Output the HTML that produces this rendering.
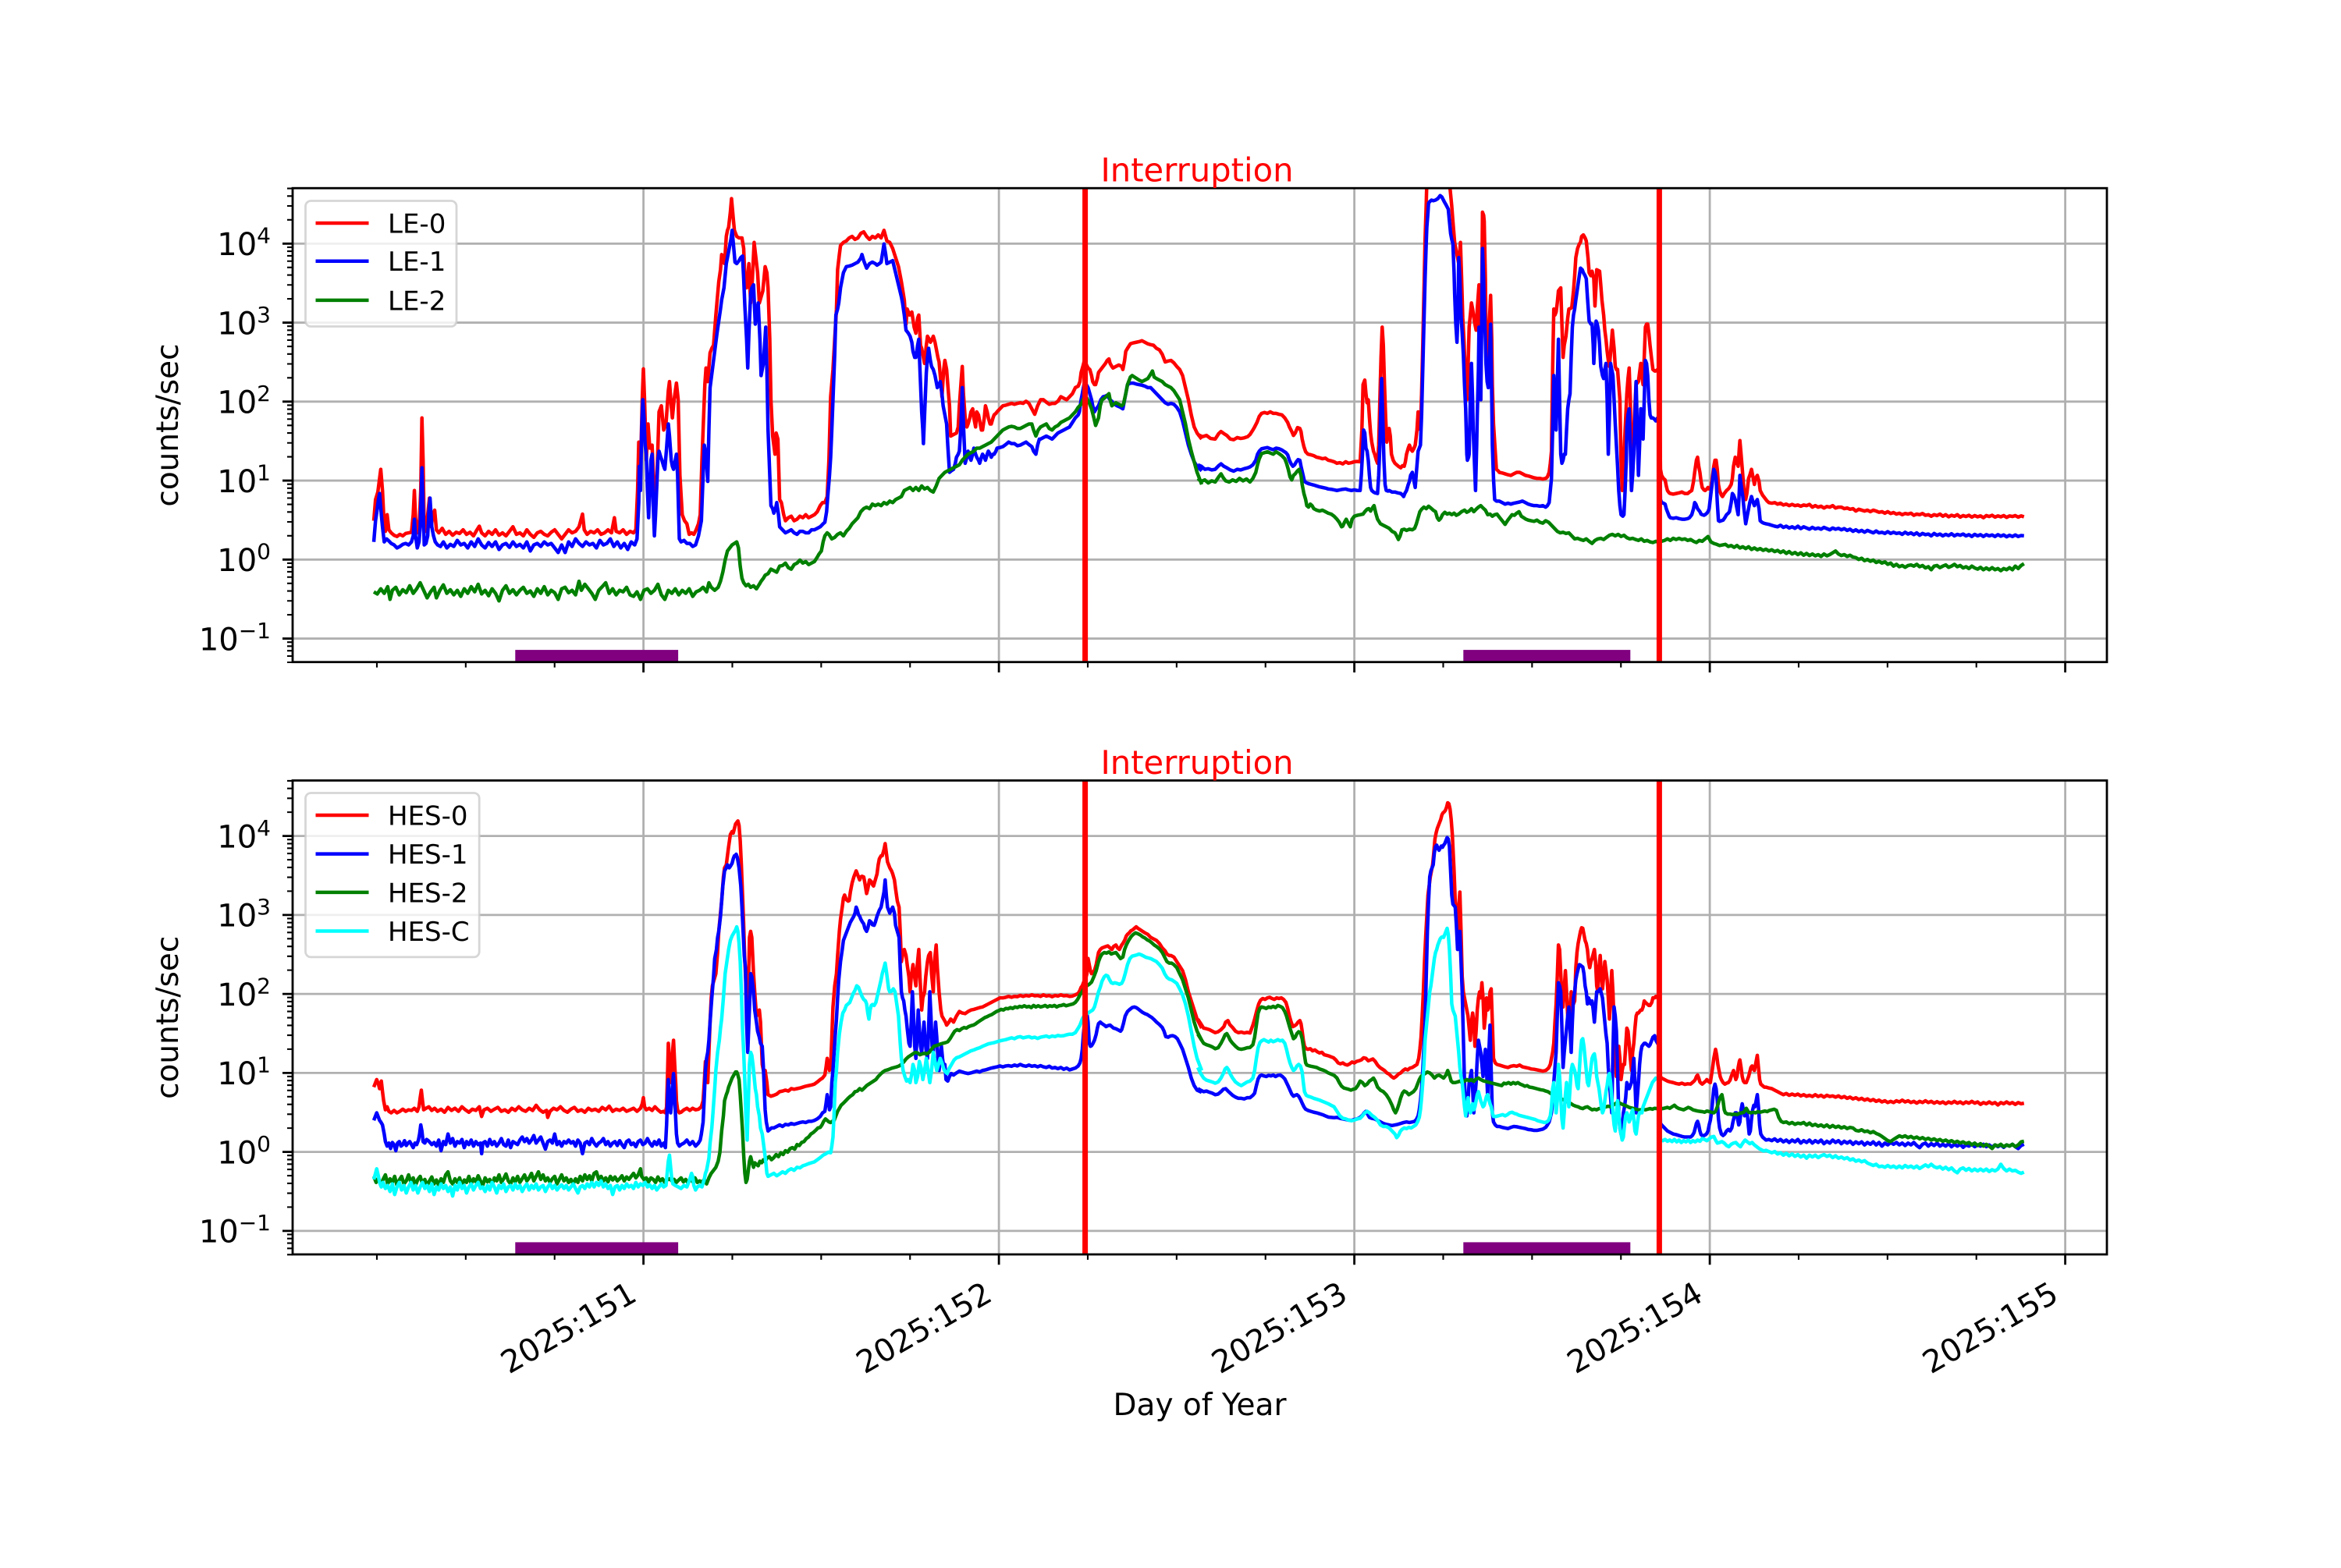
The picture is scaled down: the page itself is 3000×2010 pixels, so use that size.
<!DOCTYPE html>
<html><head><meta charset="utf-8"><style>
html,body{margin:0;padding:0;background:#fff}
svg{display:block}
text{font-family:"DejaVu Sans","Liberation Sans",sans-serif}
.s{fill:none;stroke-width:4.5;stroke-linejoin:round;vector-effect:non-scaling-stroke}
</style></head><body>
<svg width="3000" height="2010" viewBox="0 0 3000 2010" xmlns="http://www.w3.org/2000/svg">
<rect width="3000" height="2010" fill="#fff"/>
<defs>
<clipPath id="cT"><rect x="375" y="241.2" width="2325" height="607.5"/></clipPath>
<clipPath id="cB"><rect x="375" y="1000.5" width="2325" height="607.5"/></clipPath>
</defs>

<!-- GRID -->
<g id="gridT"><path fill="none" stroke="#b0b0b0" stroke-width="2.8" d="M375,312.3H2700M375,413.55H2700M375,514.8H2700M375,616.05H2700M375,717.3H2700M375,818.55H2700M824.6,241.2V848.7M1280.1,241.2V848.7M1735.6,241.2V848.7M2191.1,241.2V848.7M2646.6,241.2V848.7"/></g>
<use href="#gridT" transform="translate(0,759.3)"/>

<!-- TOP DATA -->
<g clip-path="url(#cT)">
<g transform="translate(375,241) scale(0.742985,0.387755)">
<polyline class="s" stroke="#ff0000" points="140,1100 143,1030 147,1005 150,960 152,930 155,1000 158,1120 160,1135 163,1080 166,1130 170,1140 175,1148 180,1152 185,1145 190,1150 195,1142 200,1140 205,1138 208,1080 210,1000 212,1090 215,1140 218,1130 221,1000 223,760 225,900 227,1130 230,1135 233,1080 236,1025 239,1120 242,1080 245,1065 248,1130 252,1140 258,1125 264,1145 270,1135 276,1148 282,1138 288,1142 294,1130 300,1145 306,1138 312,1150 318,1130 322,1118 326,1140 332,1150 338,1135 344,1145 350,1130 356,1148 362,1140 368,1150 374,1135 380,1120 386,1145 392,1140 398,1150 404,1130 410,1145 416,1155 422,1140 428,1135 434,1145 440,1150 446,1138 452,1130 458,1145 464,1160 470,1145 476,1130 482,1140 488,1135 494,1120 500,1078 503,1130 508,1145 514,1135 520,1140 526,1130 532,1145 538,1140 544,1130 550,1140 555,1090 558,1135 564,1140 570,1130 576,1145 582,1135 588,1140 592,1130 595,1000 597,840 600,930 603,700 605,598 607,700 610,900 613,780 616,860 620,850 624,1020 628,980 632,740 636,720 640,800 644,780 648,670 650,640 653,720 655,760 658,700 662,645 665,700 668,950 672,1080 676,1100 680,1110 684,1145 688,1140 692,1145 696,1130 700,1110 703,1080 706,900 708,800 711,650 713,595 716,640 720,545 723,530 726,520 730,420 735,310 738,270 740,220 743,240 745,250 748,160 750,140 752,130 755,80 757,35 760,100 762,140 766,160 770,165 775,165 778,200 780,300 783,330 787,250 790,380 793,300 796,180 799,230 802,280 805,380 808,360 811,340 815,260 818,280 820,330 823,500 825,700 828,820 832,880 834,810 837,830 840,1030 843,1040 847,1080 850,1100 855,1090 860,1085 865,1100 870,1095 875,1085 880,1090 885,1080 890,1090 895,1085 900,1080 905,1070 910,1050 914,1040 918,1040 922,1020 925,900 928,690 932,600 935,500 938,400 940,270 943,220 945,190 950,180 955,175 960,165 965,160 970,170 975,165 980,150 985,145 990,160 995,170 1000,160 1005,165 1010,155 1015,165 1020,140 1025,175 1030,180 1035,200 1040,230 1045,260 1050,310 1055,370 1058,450 1060,400 1064,420 1068,410 1072,460 1075,480 1078,430 1080,420 1083,520 1085,530 1088,560 1090,580 1093,520 1095,490 1098,500 1100,510 1103,500 1105,490 1108,510 1110,530 1113,560 1115,575 1118,640 1120,690 1123,600 1125,570 1128,600 1130,650 1133,720 1135,820 1140,815 1145,810 1148,790 1150,720 1153,640 1155,590 1157,680 1160,760 1163,790 1165,780 1168,760 1170,740 1173,730 1175,760 1178,790 1180,740 1183,750 1185,770 1188,800 1190,800 1193,760 1195,720 1198,740 1200,760 1203,780 1205,780 1208,760 1210,750 1213,745 1215,740 1220,730 1225,720 1230,718 1235,715 1240,712 1245,715 1250,712 1255,710 1260,712 1265,705 1270,712 1275,730 1280,748 1285,720 1290,700 1295,700 1300,708 1305,715 1310,712 1315,712 1320,705 1325,690 1330,695 1335,700 1340,690 1345,680 1350,660 1355,655 1358,640 1360,610 1363,590 1365,575 1368,580 1372,595 1375,600 1378,620 1380,640 1383,650 1385,650 1388,630 1390,610 1394,600 1398,590 1402,580 1405,570 1408,565 1410,580 1413,590 1415,595 1420,590 1425,585 1430,590 1432,600 1435,570 1437,540 1440,530 1445,515 1450,512 1455,510 1460,508 1465,505 1470,510 1475,515 1480,518 1485,520 1490,530 1495,535 1500,550 1505,575 1510,572 1515,570 1520,578 1525,590 1530,600 1535,620 1540,660 1545,700 1550,750 1555,790 1560,810 1568,830"/>
<polyline class="s" stroke="#0000ff" points="140,1170 143,1100 146,1060 148,1030 150,1010 153,1080 155,1120 158,1170 162,1160 165,1165 170,1175 175,1180 180,1190 185,1185 190,1178 195,1175 200,1180 205,1170 208,1150 210,1095 212,1150 215,1190 218,1170 220,1120 222,1000 223,925 225,1050 227,1180 230,1175 233,1150 235,1070 237,1025 240,1120 243,1150 246,1170 250,1180 255,1185 260,1170 266,1190 272,1178 278,1185 284,1165 290,1180 296,1175 302,1190 308,1170 314,1185 320,1160 326,1180 332,1190 338,1172 344,1185 350,1170 356,1195 362,1180 368,1175 374,1188 380,1170 386,1185 392,1178 398,1190 404,1170 410,1200 416,1180 422,1175 428,1185 434,1170 440,1180 446,1175 452,1190 458,1205 464,1180 470,1205 476,1170 482,1185 488,1160 494,1175 500,1185 506,1170 512,1180 518,1175 524,1190 530,1165 536,1180 542,1175 548,1160 554,1185 560,1170 566,1190 572,1175 578,1195 584,1170 590,1180 594,1160 597,1040 598,920 600,1000 602,800 604,700 606,760 608,850 610,880 612,1000 614,1090 616,1000 618,900 620,880 622,1050 624,1150 626,1080 628,990 630,900 632,870 635,890 637,900 640,920 642,930 645,860 648,780 650,820 653,900 655,920 657,930 660,900 662,880 664,950 667,1160 670,1170 675,1165 680,1175 685,1175 690,1185 695,1180 700,1150 703,1120 705,1100 708,950 710,850 713,880 716,970 718,800 720,660 724,600 728,540 732,480 735,440 738,400 740,370 744,330 748,250 750,230 753,200 756,170 758,140 760,180 763,245 766,250 770,240 773,230 776,225 778,300 780,390 783,500 785,595 787,480 790,350 792,330 795,320 798,450 800,420 803,380 806,500 808,620 810,600 812,580 814,520 816,460 818,600 820,800 823,950 825,1050 828,1060 830,1075 833,1060 835,1040 838,1080 840,1120 845,1130 850,1140 855,1135 860,1130 865,1140 870,1145 875,1135 880,1135 885,1140 890,1140 895,1130 900,1130 905,1125 910,1120 915,1110 918,1105 921,1070 923,1020 926,950 928,890 930,800 932,700 935,550 937,420 940,400 942,380 945,330 948,300 950,280 955,260 960,258 965,255 970,250 975,245 980,232 982,220 985,240 990,265 995,250 1000,245 1005,250 1008,255 1012,250 1015,245 1018,210 1020,185 1023,220 1025,250 1030,245 1035,240 1040,280 1045,320 1050,360 1052,380 1055,420 1058,470 1062,480 1065,490 1068,510 1070,540 1073,560 1075,560 1078,520 1080,500 1082,600 1085,740 1087,800 1088,845 1090,750 1093,610 1095,560 1097,530 1100,570 1102,590 1105,600 1108,620 1110,640 1112,660 1115,650 1117,640 1120,680 1122,720 1125,750 1128,780 1130,850 1133,940 1136,935 1140,930 1143,910 1145,890 1148,880 1150,870 1153,780 1155,660 1157,780 1160,910 1163,890 1165,870 1168,890 1170,900 1173,880 1175,860 1178,880 1180,890 1183,900 1185,910 1188,890 1190,880 1193,890 1195,900 1198,880 1200,870 1203,880 1205,890 1208,880 1210,880 1213,870 1215,860 1220,858 1225,855 1230,848 1235,840 1240,845 1245,845 1250,852 1255,850 1260,845 1265,840 1270,848 1275,855 1278,870 1282,880 1285,850 1288,830 1290,830 1295,825 1300,820 1305,825 1310,830 1315,820 1320,810 1325,805 1330,800 1335,795 1340,790 1345,775 1350,760 1355,750 1357,740 1360,700 1362,680 1364,660 1366,640 1369,650 1372,660 1375,680 1378,700 1380,720 1383,740 1386,730 1390,720 1394,700 1398,690 1402,688 1405,685 1408,695 1410,700 1413,705 1415,710 1418,715 1422,720 1428,725 1432,730 1435,700 1438,670 1440,650 1445,645 1450,645 1455,648 1460,650 1465,652 1470,655 1475,660 1480,660 1485,670 1490,680 1495,690 1500,700 1505,710 1510,715 1515,712 1520,715 1525,725 1530,740 1535,770 1540,810 1545,850 1550,880 1555,905 1560,920 1568,935"/>
<polyline class="s" stroke="#008000" points="140,1335 146,1342 152,1325 158,1340 164,1318 168,1360 172,1330 178,1320 184,1345 190,1328 196,1338 202,1315 208,1340 214,1325 220,1305 226,1330 232,1355 238,1335 244,1320 248,1355 254,1330 260,1312 266,1340 272,1328 278,1345 284,1330 290,1350 296,1325 302,1340 308,1318 314,1335 320,1310 326,1342 332,1330 338,1348 344,1325 350,1340 356,1365 362,1330 368,1315 374,1340 380,1328 386,1345 392,1330 398,1320 404,1340 410,1332 416,1350 422,1325 428,1340 434,1318 440,1345 446,1330 452,1338 458,1360 464,1325 470,1320 476,1338 482,1330 488,1345 494,1300 498,1330 504,1310 510,1325 516,1340 522,1360 528,1330 534,1318 540,1305 546,1340 552,1325 558,1345 564,1330 570,1335 576,1320 582,1345 588,1350 594,1335 600,1360 606,1330 612,1325 618,1340 624,1330 630,1310 636,1345 642,1360 648,1330 654,1340 660,1325 666,1345 672,1330 678,1340 684,1325 690,1350 696,1335 702,1330 708,1320 714,1335 718,1305 722,1320 728,1330 734,1320 738,1300 742,1270 746,1230 750,1200 754,1190 758,1180 762,1175 766,1170 769,1190 772,1250 775,1290 778,1305 782,1315 786,1310 790,1320 795,1315 800,1325 805,1310 808,1300 812,1290 815,1280 820,1275 825,1260 830,1265 835,1270 840,1250 845,1248 850,1240 855,1255 860,1260 865,1245 870,1240 875,1230 880,1240 885,1235 890,1245 895,1240 900,1235 905,1220 908,1210 912,1200 915,1170 918,1150 922,1140 925,1145 930,1160 935,1155 940,1145 945,1140 950,1150 955,1135 960,1125 965,1110 970,1100 975,1090 980,1070 985,1060 990,1055 995,1060 1000,1045 1005,1050 1010,1045 1015,1050 1020,1040 1025,1045 1030,1035 1035,1040 1040,1030 1045,1025 1050,1020 1055,1000 1060,995 1065,990 1070,1000 1075,990 1080,1000 1085,985 1090,995 1095,990 1100,1000 1105,1005 1110,985 1113,970 1115,960 1120,950 1125,940 1130,935 1135,930 1140,925 1145,920 1150,915 1155,900 1160,890 1165,880 1170,875 1175,870 1180,860 1185,860 1190,855 1195,850 1200,845 1205,840 1210,830 1215,820 1220,810 1225,800 1230,795 1235,790 1240,788 1245,790 1250,795 1255,795 1260,790 1265,785 1270,780 1275,780 1278,800 1282,820 1286,800 1290,790 1295,785 1300,780 1305,795 1310,800 1315,790 1320,785 1325,775 1330,770 1335,765 1340,760 1345,750 1350,740 1355,725 1360,715 1363,700 1366,690 1370,695 1374,710 1378,730 1382,760 1385,785 1388,770 1390,760 1393,720 1396,700 1400,695 1404,688 1408,680 1410,700 1413,720 1416,715 1420,710 1425,715 1430,720 1433,715 1437,680 1440,650 1445,625 1448,620 1452,625 1456,630 1460,635 1465,640 1470,635 1475,630 1480,615 1483,605 1486,625 1490,630 1495,635 1500,640 1505,650 1510,655 1515,660 1520,670 1525,685 1530,700 1535,740 1540,780 1545,830 1550,870 1555,905 1560,940 1568,980"/>
</g>
<g transform="translate(1535,241) scale(0.742985,0.387755)">
<polyline class="s" stroke="#ff0000" points="0,815 8,822 15,818 22,828 30,830 36,812 40,805 45,812 50,818 56,830 62,832 68,825 74,828 80,826 86,822 90,815 95,800 98,790 102,775 106,755 110,745 115,742 120,745 125,740 130,745 135,745 140,748 145,750 150,760 155,775 158,790 162,805 165,818 168,810 172,792 176,795 178,805 180,830 183,855 186,872 190,880 195,882 200,885 205,890 210,892 215,895 220,893 225,900 230,902 235,905 240,910 245,908 250,912 255,905 260,910 265,908 270,905 275,904 280,905 283,800 285,650 288,635 290,680 292,710 294,700 296,760 298,810 300,840 303,870 305,880 308,900 310,910 312,850 314,700 316,560 318,460 320,520 322,650 324,760 326,840 328,810 330,795 332,820 334,880 337,900 340,910 343,915 346,920 350,925 353,918 356,920 358,905 360,880 363,860 365,850 368,865 370,870 373,860 375,850 378,800 380,740 382,760 384,800 386,680 388,520 390,350 392,170 394,50 395,-20 433,-20 435,0 438,60 440,110 443,180 445,200 448,230 450,250 452,210 453,180 455,300 457,430 459,500 460,550 462,620 464,700 466,600 468,460 470,420 472,380 474,400 477,440 479,460 480,470 482,400 485,320 487,500 488,700 490,300 491,80 493,90 494,110 496,300 497,460 499,520 500,580 502,480 505,355 507,500 508,650 510,780 512,840 515,930 518,935 520,940 525,942 530,945 535,948 540,950 545,945 550,940 555,940 560,945 565,950 570,952 575,955 580,958 585,960 590,960 595,962 600,960 603,955 606,940 608,910 610,870 612,600 614,400 616,420 618,410 620,380 622,340 624,335 626,330 628,450 630,560 632,520 635,490 638,430 640,400 643,398 645,395 648,340 650,290 652,230 655,200 658,185 660,180 662,160 665,155 668,165 670,175 673,230 675,280 678,290 680,275 683,300 685,390 687,320 688,270 690,272 693,275 695,320 697,370 700,420 702,470 704,500 706,540 708,570 710,590 713,520 715,470 718,530 720,590 722,600 724,600 726,650 728,700 730,900 732,1000 734,950 736,840 738,760 740,680 742,630 744,595 746,700 748,1000 750,900 752,800 754,720 756,640 758,645 760,640 762,610 764,580 766,620 768,650 770,560 772,460 774,450 776,450 778,480 780,520 783,570 785,600 788,605 790,605 793,600 796,600 798,930 800,950 803,960 806,965 808,985 810,1000 813,1008 815,1010 820,1012 825,1010 830,1008 835,1005 840,1010 845,1010 848,1005 852,1000 855,970 857,940 860,900 862,890 864,920 866,940 868,970 870,990 873,998 875,1000 878,995 880,990 882,995 885,990 888,950 890,920 892,900 894,900 896,930 898,980 900,1000 903,1015 905,1020 908,1010 912,1000 915,995 917,990 920,980 922,960 924,920 927,890 930,910 932,920 934,860 935,835 937,880 940,950 942,1000 945,1030 947,1010 950,960 952,950 955,930 958,960 960,980 962,960 965,950 968,970 970,1000 974,1015 978,1025 982,1035 985,1040 990,1042 995,1040 1000,1045 1005,1042 1010,1048 1015,1045 1020,1050 1025,1046 1030,1050 1035,1048 1040,1052 1045,1048 1050,1050 1055,1046 1060,1055 1065,1050 1070,1055 1075,1052 1080,1058 1085,1053 1090,1055 1095,1050 1100,1058 1105,1055 1110,1055 1115,1060 1120,1058 1125,1062 1130,1060 1135,1068 1140,1062 1145,1065 1150,1068 1155,1065 1160,1070 1165,1065 1170,1068 1175,1072 1180,1070 1185,1075 1190,1070 1195,1076 1200,1073 1205,1078 1210,1075 1215,1080 1220,1076 1225,1078 1230,1075 1235,1082 1240,1078 1245,1080 1250,1076 1255,1082 1260,1080 1265,1085 1270,1080 1275,1083 1280,1078 1285,1085 1290,1080 1295,1087 1300,1082 1305,1085 1310,1080 1315,1088 1320,1083 1325,1086 1330,1082 1335,1088 1340,1083 1345,1087 1350,1084 1355,1090 1360,1083 1365,1086 1370,1082 1375,1088 1380,1084 1385,1087 1390,1083 1395,1089 1400,1084 1405,1086 1410,1083 1415,1088 1420,1084 1425,1087"/>
<polyline class="s" stroke="#0000ff" points="0,915 6,920 12,930 18,928 24,932 30,930 36,918 40,912 45,920 50,925 56,932 62,936 68,930 74,932 80,928 86,925 90,922 95,915 100,900 103,880 106,870 110,862 115,860 120,858 125,862 130,865 135,860 140,862 145,866 148,870 152,875 155,882 158,900 161,912 164,920 167,915 170,905 173,898 176,900 178,920 181,945 184,970 188,975 192,978 196,980 200,982 205,985 210,988 215,990 220,992 225,995 230,996 235,998 240,1000 245,998 250,996 255,995 260,998 265,1000 270,998 275,1000 280,1000 282,950 284,880 286,800 288,810 290,860 292,870 294,900 296,950 298,990 300,1000 303,1005 306,1008 310,1010 312,950 314,850 316,700 317,630 319,760 321,900 323,980 325,1000 328,1002 330,1000 335,1005 340,1005 345,1008 350,1010 353,1015 355,1020 357,1010 360,1000 363,980 365,970 367,950 370,940 372,960 375,990 377,940 380,870 382,860 384,850 386,750 388,600 390,450 392,300 394,180 395,130 397,80 398,50 400,45 403,40 406,42 410,40 414,35 418,25 421,30 425,45 428,55 432,70 434,110 436,150 438,170 440,185 442,280 443,350 445,450 447,510 449,400 450,230 452,300 454,420 456,480 458,550 460,650 462,730 464,880 465,900 467,890 468,880 470,700 472,580 474,700 475,800 477,900 479,1000 481,850 482,750 484,600 485,460 487,600 488,700 490,400 491,200 493,300 494,380 496,500 497,580 499,640 501,660 503,560 505,450 507,700 508,850 510,960 512,1030 515,1035 520,1035 525,1040 530,1045 535,1042 540,1045 545,1042 550,1040 555,1038 560,1035 565,1040 570,1045 575,1048 580,1050 585,1050 590,1052 595,1050 600,1055 603,1050 606,1040 608,1000 610,960 612,800 614,620 616,700 618,800 620,650 622,500 624,700 626,880 628,910 630,900 632,880 634,880 636,800 638,730 640,700 642,680 644,560 646,460 648,420 650,400 652,370 655,330 658,290 660,265 663,270 665,280 668,290 670,300 672,360 675,440 678,450 680,450 682,520 683,580 685,500 687,440 689,450 691,470 693,520 695,590 698,620 700,630 702,600 704,580 706,700 708,880 710,750 712,580 714,600 716,620 718,700 720,780 722,850 724,920 726,1000 728,1050 730,1080 733,1085 735,1080 737,1000 739,900 740,790 742,750 744,730 746,850 748,1000 750,950 752,880 754,760 756,640 758,800 760,950 762,850 764,730 766,780 768,830 770,700 772,570 774,580 776,620 778,700 780,750 782,760 785,760 788,765 790,770 793,760 796,760 798,1030 800,1040 803,1042 806,1045 808,1060 810,1070 813,1085 815,1090 820,1092 825,1090 830,1093 835,1095 840,1095 845,1093 848,1090 852,1080 855,1060 857,1040 859,1045 862,1060 864,1065 866,1070 868,1078 870,1080 873,1082 875,1080 878,1075 880,1070 882,1060 885,1010 887,980 890,930 892,940 894,960 896,1040 898,1100 900,1102 903,1100 906,1098 909,1090 912,1080 915,1075 917,1070 920,1040 922,1010 924,1015 927,1030 930,1060 932,1080 934,1000 935,950 937,980 940,1020 942,1060 945,1110 947,1090 950,1060 952,1040 955,1020 958,1040 960,1050 962,1040 965,1030 968,1060 970,1100 973,1105 976,1108 980,1110 985,1112 990,1115 995,1118 1000,1120 1005,1115 1010,1122 1015,1118 1020,1124 1025,1120 1030,1125 1035,1118 1040,1126 1045,1120 1050,1124 1055,1128 1060,1122 1065,1127 1070,1124 1075,1128 1080,1122 1085,1126 1090,1130 1095,1124 1100,1128 1105,1125 1110,1130 1115,1126 1120,1132 1125,1128 1130,1135 1135,1130 1140,1136 1145,1132 1150,1138 1155,1132 1160,1136 1165,1140 1170,1134 1175,1140 1180,1138 1185,1142 1190,1136 1195,1142 1200,1138 1205,1142 1210,1140 1215,1145 1220,1138 1225,1144 1230,1140 1235,1146 1240,1140 1245,1148 1250,1142 1255,1146 1260,1144 1265,1150 1270,1142 1275,1148 1280,1144 1285,1150 1290,1145 1295,1149 1300,1143 1305,1150 1310,1145 1315,1148 1320,1144 1325,1150 1330,1146 1335,1152 1340,1145 1345,1150 1350,1146 1355,1152 1360,1146 1365,1150 1370,1147 1375,1152 1380,1146 1385,1151 1390,1147 1395,1153 1400,1148 1405,1152 1410,1147 1415,1152 1420,1149 1425,1150"/>
<polyline class="s" stroke="#008000" points="0,960 6,970 12,965 18,975 24,968 30,972 36,955 40,945 44,958 48,968 54,972 60,965 66,970 72,960 78,968 84,962 90,972 95,960 100,940 103,915 106,895 110,878 115,875 120,872 125,876 130,880 135,872 140,878 145,885 150,895 153,910 156,930 159,955 162,965 165,950 168,945 172,935 175,930 178,950 180,980 183,1010 186,1030 188,1050 191,1055 194,1045 197,1050 200,1060 205,1065 210,1068 215,1065 220,1070 225,1075 230,1078 235,1085 240,1095 244,1105 248,1120 250,1118 253,1105 256,1095 260,1110 263,1120 266,1095 270,1085 275,1082 280,1080 285,1078 288,1070 292,1062 295,1060 298,1068 302,1055 304,1050 307,1075 310,1095 315,1110 320,1115 325,1120 330,1125 335,1135 340,1140 343,1150 346,1162 349,1150 352,1130 356,1128 360,1132 365,1128 370,1130 374,1125 377,1110 380,1090 383,1070 386,1062 390,1055 394,1060 398,1052 402,1058 406,1065 410,1070 413,1090 416,1098 419,1092 422,1080 426,1072 430,1078 434,1075 438,1080 442,1075 446,1082 450,1078 455,1070 460,1065 464,1072 468,1068 472,1060 476,1070 480,1062 484,1055 488,1050 492,1058 496,1065 500,1080 504,1078 508,1085 512,1080 516,1078 520,1088 525,1100 530,1112 534,1100 538,1090 542,1080 546,1082 550,1075 554,1070 558,1085 562,1090 566,1095 570,1098 575,1100 580,1102 585,1098 590,1105 595,1108 600,1100 605,1105 610,1115 615,1125 620,1135 625,1140 630,1138 635,1142 640,1140 645,1150 650,1160 655,1158 660,1162 665,1165 670,1160 675,1168 680,1175 685,1165 690,1160 695,1158 700,1162 705,1155 710,1148 715,1145 720,1150 725,1145 730,1152 735,1148 740,1156 745,1160 750,1158 755,1162 760,1165 765,1160 770,1168 775,1165 780,1170 785,1172 790,1168 795,1170 800,1168 805,1165 810,1160 815,1165 820,1158 825,1162 830,1158 835,1162 840,1160 845,1165 850,1162 855,1168 860,1172 865,1165 870,1168 875,1160 880,1152 885,1170 890,1175 895,1178 900,1182 905,1180 910,1178 915,1185 920,1182 925,1188 930,1182 935,1190 940,1186 945,1192 950,1186 955,1195 960,1190 965,1196 970,1192 975,1198 980,1194 985,1200 990,1196 995,1202 1000,1198 1005,1205 1010,1200 1015,1208 1020,1202 1025,1210 1030,1205 1035,1212 1040,1206 1045,1214 1050,1208 1055,1215 1060,1210 1065,1216 1070,1212 1075,1218 1080,1210 1085,1216 1090,1212 1095,1206 1100,1200 1105,1210 1110,1215 1115,1212 1120,1218 1125,1214 1130,1220 1135,1222 1140,1228 1145,1224 1150,1232 1155,1228 1160,1234 1165,1230 1170,1238 1175,1234 1180,1240 1185,1236 1190,1244 1195,1240 1200,1250 1205,1244 1210,1252 1215,1248 1220,1254 1225,1248 1230,1246 1235,1250 1240,1244 1245,1252 1250,1248 1255,1256 1260,1252 1265,1262 1270,1250 1275,1248 1280,1255 1285,1250 1290,1246 1295,1254 1300,1250 1305,1244 1310,1252 1315,1248 1320,1256 1325,1252 1330,1258 1335,1250 1340,1256 1345,1260 1350,1254 1355,1262 1360,1256 1365,1262 1370,1255 1375,1262 1380,1258 1385,1265 1390,1258 1395,1262 1400,1255 1405,1262 1410,1250 1415,1258 1420,1248 1425,1242"/>
</g>
</g>

<!-- BOTTOM DATA -->
<g clip-path="url(#cB)">
<g transform="translate(375,1000) scale(0.742985,0.387755)">
<polyline class="s" stroke="#ff0000" points="140,1015 143,1000 145,990 148,1005 150,1020 153,995 155,1030 157,1060 160,1090 163,1080 166,1095 170,1100 175,1092 180,1100 185,1095 190,1088 195,1095 200,1090 205,1092 210,1085 215,1095 218,1080 220,1050 222,1025 224,1060 226,1090 230,1085 235,1080 240,1092 245,1085 250,1095 256,1088 262,1098 268,1082 274,1092 280,1085 286,1095 292,1080 298,1090 304,1098 310,1088 316,1092 322,1080 326,1112 330,1090 336,1085 342,1095 348,1088 354,1082 360,1095 366,1090 372,1098 378,1085 384,1092 390,1080 396,1090 402,1095 408,1085 414,1092 420,1075 426,1090 432,1098 438,1092 440,1115 444,1095 450,1085 456,1090 462,1080 468,1092 474,1098 480,1088 486,1082 492,1095 498,1090 504,1098 510,1085 516,1092 522,1088 528,1095 534,1082 540,1090 546,1078 552,1095 558,1088 564,1092 570,1085 576,1095 582,1090 588,1085 594,1095 600,1085 603,1070 605,1050 607,1080 610,1090 615,1085 620,1092 625,1080 630,1090 635,1098 640,1095 643,1100 645,1080 647,950 648,870 650,920 652,1000 654,950 656,880 657,860 659,940 661,1010 662,1060 664,1090 667,1100 670,1098 675,1090 680,1085 685,1092 690,1085 695,1090 700,1088 705,1080 708,1060 710,1000 712,930 714,960 716,1000 718,900 720,800 722,720 724,680 727,660 730,640 733,570 735,500 738,440 740,400 743,320 745,290 748,280 750,250 752,220 755,180 758,170 760,175 762,160 764,145 766,140 768,135 770,150 772,200 774,280 776,380 778,480 780,600 782,680 784,750 786,700 788,520 790,500 792,520 794,600 795,640 797,700 800,780 802,770 805,760 807,800 810,940 812,960 815,960 818,1000 820,1040 825,1045 830,1042 835,1038 840,1030 845,1028 850,1025 855,1028 860,1020 865,1022 870,1020 875,1018 880,1015 885,1012 890,1010 895,1008 900,1005 905,998 910,990 914,985 918,975 920,950 922,920 924,940 926,960 928,950 930,850 932,750 935,680 938,640 940,580 943,500 945,460 948,420 950,390 952,380 955,395 958,400 960,398 962,370 965,340 968,320 970,310 972,300 975,315 978,330 980,320 982,318 985,320 987,340 990,375 992,360 995,330 998,335 1000,345 1002,350 1005,330 1008,310 1010,280 1012,260 1015,250 1017,250 1020,230 1022,210 1024,240 1026,270 1028,280 1030,290 1033,300 1035,310 1038,330 1040,360 1043,400 1046,420 1048,500 1050,600 1052,580 1055,560 1058,580 1060,610 1063,650 1065,700 1067,650 1070,610 1072,640 1075,680 1077,620 1080,560 1082,650 1085,760 1087,720 1090,700 1092,650 1095,600 1097,580 1100,570 1102,640 1105,700 1107,600 1110,545 1112,620 1115,700 1118,760 1120,780 1123,790 1126,800 1128,810 1132,800 1135,790 1138,795 1140,800 1145,780 1150,765 1155,770 1160,772 1165,765 1170,760 1175,758 1180,755 1185,752 1190,750 1195,745 1200,740 1205,735 1210,730 1215,725 1220,720 1225,720 1230,718 1235,715 1240,718 1245,715 1250,716 1255,712 1260,715 1265,712 1270,714 1275,710 1280,713 1285,712 1290,715 1295,710 1300,714 1305,712 1310,716 1315,712 1320,714 1325,710 1330,713 1335,712 1340,715 1345,714 1350,710 1355,705 1358,695 1360,685 1362,680 1364,670 1366,660 1368,655 1370,640 1372,590 1374,610 1376,630 1378,640 1380,635 1383,630 1386,610 1390,570 1393,560 1396,555 1400,552 1403,550 1406,548 1410,555 1413,560 1416,550 1420,545 1423,555 1426,560 1430,545 1432,540 1435,530 1438,515 1440,510 1443,505 1446,498 1449,495 1452,490 1455,485 1458,490 1462,495 1466,500 1470,505 1475,510 1480,520 1485,525 1490,530 1495,540 1500,555 1505,565 1508,575 1512,580 1515,580 1520,585 1525,600 1530,615 1535,630 1540,660 1545,700 1550,730 1555,760 1560,790 1568,820"/>
<polyline class="s" stroke="#0000ff" points="140,1125 143,1110 145,1100 148,1115 150,1125 152,1130 155,1140 158,1170 160,1195 163,1210 166,1200 169,1218 172,1198 175,1205 178,1225 181,1200 184,1195 187,1210 190,1205 193,1192 196,1208 199,1200 202,1195 205,1205 208,1215 211,1200 214,1205 217,1190 219,1170 221,1140 223,1160 225,1195 228,1200 231,1188 234,1192 237,1198 240,1205 244,1198 248,1210 252,1190 256,1225 260,1195 264,1205 268,1170 272,1200 276,1185 280,1210 284,1195 288,1200 292,1188 296,1215 300,1195 304,1205 308,1190 312,1210 316,1195 320,1205 324,1200 326,1235 328,1200 332,1195 336,1210 340,1188 344,1205 348,1195 352,1210 356,1200 360,1185 364,1205 368,1210 372,1190 376,1215 380,1195 384,1200 388,1205 392,1190 396,1180 400,1195 404,1185 408,1200 412,1190 416,1175 420,1200 424,1190 428,1180 432,1200 436,1220 440,1195 444,1190 448,1200 452,1170 456,1205 460,1195 464,1210 468,1195 472,1200 476,1190 480,1200 484,1195 488,1210 492,1190 496,1200 500,1235 504,1200 508,1195 512,1205 516,1185 520,1200 524,1210 528,1200 532,1195 536,1185 540,1205 544,1195 548,1210 552,1200 556,1195 560,1208 564,1192 568,1205 572,1215 576,1195 580,1190 584,1205 588,1200 592,1212 596,1195 600,1190 604,1205 608,1200 612,1185 616,1200 620,1210 624,1195 628,1205 632,1190 636,1210 640,1200 643,1215 645,1140 647,1030 648,990 650,1050 652,1100 654,1060 656,990 657,970 659,1050 661,1130 662,1170 664,1200 667,1210 670,1205 675,1200 680,1190 685,1205 690,1195 695,1210 700,1200 703,1190 705,1170 708,1130 710,1050 712,960 714,920 716,900 718,860 720,800 723,720 726,650 728,590 731,560 733,520 735,500 738,450 740,400 742,350 745,300 748,290 750,280 753,290 755,285 758,275 760,260 762,250 764,250 765,245 767,255 770,290 773,350 775,420 777,500 779,580 781,620 783,800 785,900 787,800 789,700 790,640 792,650 795,700 797,760 800,800 802,830 805,850 807,870 810,880 812,950 815,1090 817,1130 820,1160 823,1155 826,1150 830,1150 835,1145 840,1140 845,1145 850,1138 855,1140 860,1135 865,1138 870,1135 875,1132 880,1130 885,1132 890,1128 895,1128 900,1125 905,1120 910,1112 914,1100 918,1095 920,1070 922,1040 924,1060 926,1090 928,1080 930,1000 932,960 934,900 936,840 938,790 940,720 942,660 945,600 948,560 950,530 952,520 955,505 958,490 960,480 962,470 965,460 968,450 970,440 972,420 974,430 976,445 978,450 980,460 983,470 985,475 987,490 990,500 992,490 995,465 998,470 1000,478 1003,480 1005,470 1008,450 1010,440 1012,430 1015,420 1017,400 1020,370 1022,330 1024,380 1026,420 1028,430 1030,440 1032,430 1035,420 1038,440 1040,480 1043,500 1046,520 1048,620 1050,700 1052,720 1054,730 1056,760 1058,780 1060,820 1063,870 1065,880 1067,800 1069,700 1071,780 1073,880 1075,920 1077,850 1079,760 1081,820 1083,880 1085,900 1087,850 1089,800 1091,860 1093,900 1095,920 1097,820 1099,700 1101,780 1103,880 1105,900 1107,860 1109,800 1111,850 1113,920 1115,960 1117,920 1119,880 1121,920 1123,950 1125,940 1127,990 1130,995 1133,980 1136,970 1140,975 1145,968 1150,962 1155,965 1160,968 1165,970 1170,968 1175,965 1180,962 1185,965 1190,960 1195,958 1200,955 1205,952 1210,950 1215,948 1220,945 1225,948 1230,945 1235,944 1240,946 1245,942 1250,945 1255,940 1260,944 1265,946 1270,942 1275,946 1280,944 1285,948 1290,944 1295,948 1300,950 1305,946 1310,952 1315,950 1320,954 1325,950 1330,956 1335,952 1340,958 1345,955 1350,952 1355,945 1358,935 1360,920 1362,890 1364,840 1366,800 1368,780 1370,770 1372,800 1374,870 1376,880 1378,878 1380,872 1383,860 1386,840 1388,820 1390,805 1393,800 1396,805 1400,810 1403,815 1406,812 1410,810 1413,815 1416,820 1420,822 1424,826 1428,830 1430,825 1433,805 1436,780 1440,765 1444,758 1448,752 1452,750 1455,752 1458,756 1462,762 1466,768 1470,772 1474,775 1478,780 1482,785 1486,792 1490,800 1495,808 1500,818 1503,830 1506,848 1510,850 1514,846 1518,845 1522,848 1526,855 1530,870 1535,890 1540,920 1545,950 1550,985 1555,1010 1560,1025 1568,1032"/>
<polyline class="s" stroke="#008000" points="140,1310 144,1330 148,1315 152,1340 156,1320 160,1305 164,1335 168,1318 172,1330 176,1310 180,1340 184,1322 188,1310 192,1335 196,1325 200,1305 204,1330 208,1315 212,1340 216,1320 220,1310 224,1335 228,1320 232,1340 236,1325 240,1312 244,1335 248,1322 252,1340 256,1318 260,1330 264,1305 268,1295 272,1325 276,1335 280,1318 284,1330 288,1315 292,1340 296,1322 300,1330 304,1310 308,1335 312,1318 316,1328 320,1308 324,1325 328,1340 332,1315 336,1328 340,1320 344,1338 348,1315 352,1325 356,1305 360,1330 364,1318 368,1302 372,1325 376,1335 380,1315 384,1328 388,1310 392,1330 396,1318 400,1305 404,1325 408,1315 412,1300 416,1325 420,1310 424,1295 428,1320 432,1305 436,1325 440,1315 444,1330 448,1318 452,1310 456,1335 460,1320 464,1305 468,1325 472,1315 476,1330 480,1320 484,1335 488,1318 492,1330 496,1310 500,1325 504,1305 508,1320 512,1308 516,1325 520,1300 524,1295 528,1320 532,1310 536,1325 540,1315 544,1328 548,1310 552,1322 556,1312 560,1325 564,1318 568,1308 572,1325 576,1312 580,1320 584,1310 588,1300 592,1315 596,1305 600,1285 602,1310 606,1320 610,1315 614,1328 618,1315 622,1320 626,1330 630,1312 634,1325 638,1318 642,1330 646,1322 650,1318 654,1325 658,1320 662,1330 666,1322 670,1315 674,1328 678,1320 682,1332 686,1318 690,1328 694,1315 698,1330 702,1325 706,1330 710,1320 714,1335 718,1315 722,1300 726,1290 730,1280 734,1260 737,1230 740,1160 743,1110 745,1060 748,1040 750,1030 752,1015 755,1000 758,985 761,975 764,965 766,965 768,975 770,990 772,1040 774,1100 776,1160 778,1240 780,1300 782,1330 784,1320 786,1290 788,1260 790,1245 792,1260 795,1280 797,1265 800,1270 803,1275 806,1260 809,1265 812,1255 815,1262 818,1250 822,1245 826,1255 830,1248 834,1238 838,1245 842,1232 846,1238 850,1225 854,1230 858,1218 862,1215 866,1220 870,1205 874,1208 878,1198 882,1195 886,1185 890,1180 894,1170 898,1165 902,1158 906,1150 910,1148 913,1140 916,1128 919,1120 922,1125 925,1130 928,1132 931,1128 934,1125 937,1110 940,1095 943,1085 946,1075 950,1068 954,1060 958,1052 962,1045 966,1040 970,1030 974,1028 978,1020 982,1025 986,1018 990,1010 994,1005 998,1000 1002,995 1006,990 1010,980 1014,972 1018,965 1022,960 1026,958 1030,955 1034,952 1038,950 1042,948 1046,945 1050,940 1054,932 1058,922 1062,915 1066,910 1070,905 1074,900 1078,902 1082,908 1086,905 1090,903 1094,905 1098,900 1102,890 1106,880 1110,878 1114,875 1118,872 1122,870 1126,868 1130,865 1134,855 1138,842 1142,830 1146,825 1150,828 1154,822 1158,818 1162,820 1166,815 1170,812 1174,810 1178,806 1182,800 1186,795 1190,790 1194,785 1198,782 1202,778 1206,775 1210,770 1214,765 1218,762 1222,758 1226,760 1230,755 1234,756 1238,752 1242,755 1246,750 1250,752 1254,748 1258,750 1262,746 1266,750 1270,748 1274,752 1278,745 1282,750 1286,746 1290,750 1294,748 1298,745 1302,750 1306,746 1310,748 1314,745 1318,750 1322,746 1326,745 1330,742 1334,746 1338,744 1342,742 1346,740 1350,735 1354,725 1358,710 1362,700 1366,685 1370,680 1374,675 1378,668 1382,650 1386,630 1390,600 1393,585 1396,575 1400,570 1404,572 1408,568 1412,575 1416,572 1420,570 1424,580 1428,590 1432,585 1435,560 1438,545 1442,530 1446,518 1450,510 1454,505 1458,508 1462,512 1466,518 1470,522 1474,528 1478,532 1482,538 1486,545 1490,550 1495,558 1500,570 1504,585 1508,600 1512,605 1516,605 1520,610 1525,620 1530,640 1535,660 1540,690 1545,720 1550,760 1555,800 1560,830 1568,860"/>
<polyline class="s" stroke="#00ffff" points="140,1320 143,1300 145,1285 148,1310 150,1330 153,1345 156,1330 160,1350 164,1340 168,1360 172,1335 176,1370 180,1345 184,1330 188,1355 192,1340 196,1365 200,1345 204,1330 208,1355 212,1340 216,1365 220,1345 224,1330 228,1350 232,1340 236,1360 240,1335 244,1370 248,1345 252,1355 256,1335 260,1350 264,1340 268,1360 272,1345 276,1375 280,1340 284,1355 288,1330 292,1350 296,1340 300,1365 304,1345 308,1335 312,1355 316,1340 320,1330 324,1350 328,1345 332,1360 336,1340 340,1355 344,1330 348,1345 352,1365 356,1340 360,1350 364,1335 368,1360 372,1345 376,1340 380,1355 384,1335 388,1350 392,1340 396,1360 400,1345 404,1335 408,1355 412,1340 416,1350 420,1335 424,1355 428,1345 432,1340 436,1360 440,1345 444,1335 448,1350 452,1340 456,1355 460,1345 464,1338 468,1350 472,1340 476,1355 480,1345 484,1335 488,1350 492,1365 496,1345 500,1340 504,1350 508,1335 512,1345 516,1330 520,1345 524,1330 528,1340 532,1325 536,1345 540,1335 544,1350 548,1340 552,1370 556,1345 560,1340 564,1355 568,1340 572,1350 576,1335 580,1345 584,1340 588,1350 592,1330 596,1345 600,1335 604,1340 608,1330 612,1345 616,1338 620,1350 624,1340 628,1355 632,1345 636,1335 640,1345 644,1340 646,1300 648,1260 650,1240 652,1280 654,1320 656,1335 660,1340 665,1345 670,1350 675,1340 680,1345 685,1320 688,1300 690,1310 692,1340 695,1355 698,1345 702,1340 706,1345 710,1320 712,1300 714,1290 716,1270 718,1250 720,1200 723,1150 725,1100 728,1020 730,960 733,900 736,860 738,820 740,790 743,720 746,640 749,600 752,560 755,530 758,515 761,505 764,495 766,485 768,500 770,540 772,600 774,700 776,820 778,900 780,1000 782,1120 784,1190 786,1060 788,940 790,900 792,910 794,940 796,980 798,1020 800,1040 802,1080 805,1110 807,1150 810,1170 812,1200 814,1230 816,1260 818,1300 820,1310 825,1305 830,1300 835,1308 840,1302 845,1295 850,1300 855,1290 860,1285 865,1290 870,1280 875,1282 880,1275 885,1272 890,1268 895,1265 900,1262 905,1255 910,1248 915,1240 920,1235 924,1230 928,1232 930,1210 932,1180 934,1100 936,1000 938,960 940,900 943,840 946,800 949,770 952,760 955,745 958,740 961,735 964,720 967,705 970,695 973,680 976,685 979,700 982,715 985,725 988,730 990,740 992,770 994,790 996,760 998,745 1000,742 1003,745 1006,735 1009,710 1012,685 1015,660 1017,640 1020,620 1022,605 1024,630 1026,660 1028,690 1030,700 1033,698 1036,690 1039,700 1042,740 1045,780 1048,870 1050,920 1053,960 1056,980 1059,995 1062,990 1065,1000 1068,970 1070,940 1073,960 1075,1000 1078,980 1081,930 1084,950 1087,990 1090,960 1093,920 1096,960 1099,1000 1102,960 1105,900 1108,930 1111,960 1114,940 1117,920 1120,935 1123,955 1126,965 1129,970 1132,955 1135,945 1138,935 1141,925 1145,918 1150,915 1155,910 1160,905 1165,900 1170,895 1175,892 1180,888 1185,885 1190,880 1195,876 1200,872 1205,870 1210,868 1215,865 1220,862 1225,860 1230,858 1235,855 1240,852 1245,855 1250,850 1255,848 1260,852 1265,850 1270,848 1275,852 1280,850 1285,854 1290,850 1295,848 1300,846 1305,850 1310,846 1315,848 1320,844 1325,846 1330,845 1335,842 1340,840 1345,840 1350,835 1355,820 1358,810 1360,800 1362,790 1365,780 1368,775 1372,770 1376,765 1380,760 1383,750 1386,730 1390,700 1393,685 1396,665 1400,650 1403,645 1406,648 1409,660 1412,670 1415,672 1418,670 1422,672 1426,675 1430,672 1433,660 1436,640 1440,610 1444,590 1448,582 1452,580 1456,578 1460,575 1464,578 1468,582 1472,586 1476,588 1480,590 1485,595 1490,600 1495,610 1500,622 1504,640 1508,652 1512,658 1516,660 1520,665 1525,672 1530,690 1535,710 1540,740 1545,780 1550,830 1555,880 1560,920 1568,960"/>
</g>
<g transform="translate(1535,1000) scale(0.742985,0.387755)">
<polyline class="s" stroke="#ff0000" points="0,790 5,805 10,820 15,822 20,825 25,830 30,835 35,832 40,825 45,815 48,800 52,795 55,808 60,818 65,830 70,835 75,833 80,836 85,834 90,836 95,810 98,790 102,760 105,740 108,728 112,722 116,725 120,720 124,718 128,722 132,725 136,720 140,722 144,720 148,725 152,735 155,755 158,780 161,800 164,815 167,812 170,808 173,800 176,795 178,805 180,830 182,860 184,880 187,888 190,890 194,888 198,895 202,892 206,898 210,902 214,900 218,908 222,910 226,912 230,915 234,918 238,925 242,935 246,938 250,935 254,940 258,942 262,938 266,932 270,935 274,930 278,928 282,925 286,918 290,920 294,928 298,925 302,922 306,930 310,942 314,950 318,955 322,960 326,968 330,972 334,980 338,985 342,980 346,972 350,968 354,960 358,955 362,958 366,952 370,950 374,945 378,940 381,920 383,890 385,850 387,780 389,700 391,600 393,520 395,450 397,380 399,350 401,320 403,300 405,280 407,240 409,195 411,175 413,160 415,150 417,140 419,130 421,115 423,108 425,105 427,100 429,90 431,75 433,78 435,95 437,130 439,180 440,220 442,300 444,400 446,450 448,500 450,420 452,370 454,500 456,650 458,700 460,720 462,740 464,760 466,780 468,820 470,860 472,800 474,770 476,800 478,880 480,830 482,760 484,720 486,700 488,720 490,670 492,720 494,820 496,780 498,720 500,760 502,750 504,700 506,690 508,800 510,920 513,935 516,940 520,942 525,945 530,948 535,950 540,946 545,944 550,946 555,942 560,948 565,950 570,952 575,955 580,956 585,958 590,960 595,962 600,960 605,952 608,940 610,920 612,900 614,870 616,800 618,740 620,650 622,545 624,560 626,640 628,720 630,750 632,690 634,630 636,700 638,780 640,800 642,760 644,700 646,720 648,740 650,730 652,620 654,570 656,540 658,520 660,500 662,488 664,490 666,510 668,530 670,540 672,560 674,600 676,620 678,600 680,590 682,575 684,560 686,600 688,680 690,700 692,620 694,580 696,640 698,690 700,650 702,600 704,630 706,660 708,720 710,790 712,700 714,630 716,700 718,800 720,900 722,980 724,920 726,880 728,920 730,990 732,960 734,940 736,940 738,880 740,820 742,830 744,870 746,920 748,960 750,900 752,870 754,820 756,780 758,770 760,770 762,765 764,760 766,760 768,750 770,730 772,735 775,740 778,745 780,745 783,735 785,720 788,720 790,715 793,720 796,720 798,980 800,985 805,990 810,995 815,998 820,1000 825,1003 830,1005 835,1002 840,1006 845,1004 850,1005 853,1000 856,995 858,990 860,980 862,975 864,985 866,998 868,1002 870,1005 873,1000 876,995 878,990 880,995 882,998 884,1000 886,975 888,950 890,920 892,900 893,890 895,910 897,940 899,960 901,980 903,990 906,1000 909,1005 912,1002 915,1000 918,992 920,980 922,970 924,960 926,975 928,990 930,980 932,950 934,930 935,925 937,950 939,980 941,995 943,1000 946,1000 948,990 950,980 952,965 954,950 956,945 958,955 960,960 962,940 964,920 965,910 967,950 969,990 971,1005 974,1010 977,1015 980,1015 985,1018 990,1020 995,1025 1000,1030 1005,1035 1010,1040 1015,1036 1020,1042 1025,1038 1030,1042 1035,1038 1040,1044 1045,1040 1050,1045 1055,1042 1060,1046 1065,1040 1070,1046 1075,1042 1080,1048 1085,1042 1090,1046 1095,1044 1100,1048 1105,1044 1110,1050 1115,1046 1120,1052 1125,1048 1130,1054 1135,1050 1140,1056 1145,1052 1150,1058 1155,1054 1160,1060 1165,1056 1170,1062 1175,1058 1180,1064 1185,1060 1190,1066 1195,1062 1200,1066 1205,1060 1210,1064 1215,1058 1220,1064 1225,1060 1230,1066 1235,1062 1240,1068 1245,1062 1250,1066 1255,1060 1260,1066 1265,1062 1270,1068 1275,1063 1280,1068 1285,1064 1290,1070 1295,1064 1300,1068 1305,1062 1310,1068 1315,1064 1320,1070 1325,1064 1330,1068 1335,1062 1340,1068 1345,1064 1350,1072 1355,1066 1360,1070 1365,1064 1370,1070 1375,1066 1380,1074 1385,1066 1390,1070 1395,1064 1400,1070 1405,1066 1410,1072 1415,1066 1420,1070 1425,1068"/>
<polyline class="s" stroke="#0000ff" points="0,1020 5,1025 10,1030 15,1028 20,1032 25,1035 30,1040 35,1038 40,1030 44,1022 48,1020 52,1028 56,1035 60,1042 65,1048 70,1052 75,1052 80,1054 85,1050 90,1050 95,1042 98,1035 101,1010 104,988 107,978 110,975 114,978 118,980 122,976 126,978 130,975 134,980 138,976 142,975 146,980 150,988 153,1000 156,1012 159,1025 162,1038 165,1045 168,1042 171,1040 174,1045 177,1055 180,1068 183,1080 186,1088 190,1092 195,1095 200,1098 205,1100 210,1103 215,1106 220,1110 225,1114 230,1115 235,1116 240,1115 245,1118 250,1120 255,1122 260,1124 265,1125 270,1122 275,1120 280,1115 284,1108 287,1100 290,1095 293,1105 296,1115 300,1118 305,1120 310,1125 315,1130 320,1135 325,1138 330,1140 335,1142 340,1140 345,1138 350,1135 355,1132 360,1130 365,1132 370,1130 374,1128 377,1122 380,1110 382,1090 384,1060 386,1020 388,960 390,880 392,800 394,650 396,500 398,400 400,320 402,300 404,290 406,280 408,240 410,220 412,215 414,225 416,232 418,225 420,218 422,222 424,215 426,210 428,200 430,190 432,195 434,220 436,300 438,380 440,410 442,415 444,420 446,480 448,560 450,520 452,500 454,600 456,700 458,850 460,1000 462,1080 464,1110 466,1060 468,1000 470,980 472,960 474,1020 476,1100 478,1050 480,1000 482,920 484,860 486,880 488,900 490,940 492,980 494,920 496,890 498,960 500,1050 502,900 504,810 506,960 508,1100 510,1130 513,1140 516,1145 520,1145 525,1148 530,1150 535,1152 540,1148 545,1145 550,1146 555,1148 560,1150 565,1152 570,1155 575,1156 580,1158 585,1158 590,1156 595,1154 600,1148 603,1140 606,1130 608,1115 610,1100 612,1060 614,1000 616,950 618,900 620,780 622,670 624,680 626,700 628,820 630,950 632,900 634,860 636,820 638,780 640,750 642,820 644,900 646,800 648,720 650,700 652,660 654,640 656,625 658,610 660,612 662,615 664,618 666,640 668,680 670,700 672,740 674,720 676,730 678,740 680,730 682,760 684,800 686,750 688,700 690,700 692,695 694,690 696,705 698,720 700,760 702,800 704,840 706,870 708,950 710,1000 712,1050 714,1100 716,900 718,750 720,780 722,830 724,960 726,1100 728,1150 730,1170 732,1150 734,1100 736,1080 738,1050 740,1000 742,1010 744,1020 746,1010 748,1000 750,960 752,920 754,1000 756,1100 758,1050 760,1000 762,940 764,900 766,880 768,875 770,870 772,870 775,875 778,880 780,875 783,860 785,850 788,845 790,860 793,870 796,880 798,1135 800,1140 805,1150 810,1160 815,1165 820,1170 825,1172 830,1175 835,1178 840,1180 845,1180 850,1180 853,1175 856,1165 858,1150 860,1135 862,1128 864,1140 866,1160 868,1172 870,1175 873,1175 876,1172 878,1168 880,1160 882,1140 884,1125 886,1100 888,1060 890,1020 892,1005 894,1020 896,1060 898,1120 900,1150 903,1170 906,1175 909,1170 912,1160 915,1155 918,1160 921,1150 923,1130 925,1115 927,1100 929,1100 931,1120 933,1140 935,1130 937,1090 939,1070 941,1090 943,1110 945,1100 947,1090 949,1130 951,1170 953,1160 955,1120 957,1090 959,1075 961,1080 963,1060 965,1040 967,1080 969,1140 971,1170 974,1180 977,1185 980,1190 985,1188 990,1192 995,1186 1000,1194 1005,1188 1010,1196 1015,1190 1020,1198 1025,1190 1030,1196 1035,1188 1040,1200 1045,1192 1050,1198 1055,1190 1060,1200 1065,1192 1070,1198 1075,1190 1080,1202 1085,1194 1090,1200 1095,1190 1100,1198 1105,1192 1110,1202 1115,1194 1120,1200 1125,1194 1130,1204 1135,1196 1140,1202 1145,1196 1150,1206 1155,1198 1160,1204 1165,1196 1170,1206 1175,1198 1180,1210 1185,1200 1190,1206 1195,1198 1200,1204 1205,1198 1210,1206 1215,1200 1220,1208 1225,1200 1230,1206 1235,1198 1240,1208 1245,1215 1250,1204 1255,1200 1260,1210 1265,1202 1270,1208 1275,1200 1280,1210 1285,1204 1290,1210 1295,1202 1300,1212 1305,1204 1310,1210 1315,1204 1320,1214 1325,1206 1330,1210 1335,1204 1340,1212 1345,1206 1350,1210 1355,1204 1360,1212 1365,1206 1370,1214 1375,1206 1380,1212 1385,1206 1390,1214 1395,1206 1400,1210 1405,1204 1410,1212 1415,1218 1420,1208 1425,1204"/>
<polyline class="s" stroke="#008000" points="0,840 5,855 10,870 15,875 20,878 25,882 30,888 35,885 40,870 44,855 47,842 50,838 53,848 56,860 60,870 65,880 70,888 75,890 80,888 85,885 90,884 95,875 98,850 101,810 104,770 107,755 110,750 114,752 118,755 122,750 126,752 130,748 134,752 138,745 142,748 146,752 150,765 153,780 156,800 159,820 162,838 165,855 168,850 171,838 174,832 177,835 180,855 182,880 184,910 186,935 188,942 191,944 195,946 200,948 205,950 210,955 215,958 220,962 225,968 230,972 235,976 240,985 244,1000 248,1012 252,1018 256,1020 260,1022 264,1025 268,1022 272,1020 276,1010 280,995 284,1000 288,1010 292,1005 296,995 300,990 303,985 306,995 310,1015 315,1025 320,1030 325,1040 330,1055 335,1075 338,1090 341,1100 344,1088 347,1070 350,1050 353,1035 356,1028 360,1032 364,1040 368,1035 372,1030 376,1020 379,1005 382,990 385,980 388,975 392,970 396,965 400,968 404,975 408,985 412,978 416,975 420,980 424,985 428,975 431,960 434,975 437,995 440,1000 444,1000 448,998 452,995 456,1000 460,995 464,990 468,994 472,990 476,996 480,988 484,985 488,990 492,994 496,996 500,998 504,1000 508,1002 512,1004 516,1006 520,1008 524,1010 528,1002 532,1004 536,1000 540,1005 544,1000 548,1004 552,1000 556,1005 560,1008 564,1012 568,1010 572,1015 576,1016 580,1018 584,1020 588,1022 592,1024 596,1025 600,1028 604,1030 608,1035 612,1040 616,1044 620,1048 624,1050 628,1055 632,1058 636,1062 640,1066 644,1070 648,1075 652,1078 656,1080 660,1084 664,1086 668,1082 672,1080 676,1085 680,1090 684,1088 688,1090 692,1086 696,1085 700,1082 704,1080 708,1078 712,1080 716,1075 720,1070 724,1065 728,1068 732,1072 736,1075 740,1078 744,1082 748,1084 752,1086 756,1088 760,1090 764,1090 768,1088 772,1090 776,1088 780,1086 784,1088 788,1085 792,1086 796,1085 798,1085 802,1086 806,1084 810,1082 814,1085 818,1080 822,1075 826,1082 830,1086 834,1088 838,1090 842,1086 846,1082 850,1085 854,1090 858,1092 862,1094 866,1095 870,1096 874,1098 878,1094 882,1096 886,1098 890,1100 893,1095 896,1080 899,1060 902,1045 904,1040 906,1060 908,1090 910,1100 914,1104 918,1104 922,1106 926,1104 930,1106 934,1102 938,1100 942,1098 946,1085 950,1098 954,1100 958,1098 962,1100 966,1096 970,1098 974,1096 978,1094 982,1096 986,1092 990,1090 994,1088 998,1092 1002,1115 1006,1128 1010,1132 1015,1130 1020,1136 1025,1132 1030,1138 1035,1134 1040,1136 1045,1132 1050,1140 1055,1134 1060,1142 1065,1138 1070,1144 1075,1140 1080,1146 1085,1140 1090,1148 1095,1142 1100,1148 1105,1144 1110,1150 1115,1146 1120,1152 1125,1148 1130,1150 1135,1158 1140,1160 1145,1156 1150,1162 1155,1160 1160,1166 1165,1162 1170,1168 1175,1172 1180,1178 1185,1185 1190,1192 1195,1195 1200,1188 1205,1182 1210,1176 1215,1180 1220,1176 1225,1182 1230,1178 1235,1184 1240,1180 1245,1186 1250,1182 1255,1188 1260,1184 1265,1190 1270,1186 1275,1192 1280,1188 1285,1194 1290,1190 1295,1196 1300,1192 1305,1198 1310,1194 1315,1200 1320,1196 1325,1202 1330,1198 1335,1206 1340,1200 1345,1208 1350,1202 1355,1210 1360,1204 1365,1210 1370,1218 1375,1206 1380,1210 1385,1204 1390,1212 1395,1206 1400,1210 1405,1204 1410,1212 1415,1206 1420,1196 1425,1194"/>
<polyline class="s" stroke="#00ffff" points="0,950 5,970 10,985 15,992 20,995 25,998 30,1002 35,998 40,985 44,970 47,955 50,950 53,958 56,972 60,985 65,998 70,1005 75,1010 80,1004 85,998 90,995 95,985 98,960 101,920 104,885 107,868 110,862 114,858 118,862 122,866 126,860 130,865 134,862 138,858 142,862 146,860 150,870 153,890 156,915 159,935 162,950 165,960 168,955 171,945 174,940 177,945 180,965 182,1000 184,1030 187,1042 190,1045 195,1048 200,1052 205,1055 210,1058 215,1062 220,1066 225,1070 230,1075 235,1080 240,1095 245,1110 250,1118 255,1120 260,1124 265,1126 270,1124 275,1120 280,1118 284,1110 288,1100 292,1095 296,1100 300,1108 305,1115 310,1125 315,1140 320,1145 325,1145 330,1150 335,1160 340,1170 343,1182 346,1175 349,1162 352,1155 356,1150 360,1152 364,1148 368,1150 372,1145 376,1140 379,1130 382,1115 384,1090 386,1050 388,1000 390,940 392,860 394,820 396,780 398,740 400,700 402,680 404,650 406,620 408,590 410,570 412,560 414,545 416,535 418,525 420,520 422,518 424,520 426,510 428,500 430,490 432,510 434,560 436,640 438,740 440,760 442,770 444,780 446,820 448,860 450,900 452,950 454,980 456,1000 458,1040 460,1080 462,1110 464,1080 466,1050 468,1080 470,1100 472,1090 474,1070 476,1090 478,1080 480,1060 482,1040 484,1030 486,1045 488,1060 490,1070 492,1080 494,1075 496,1060 498,1045 500,1040 502,1055 504,1070 506,1080 508,1100 510,1112 514,1112 518,1110 522,1108 526,1106 530,1110 534,1106 538,1100 542,1098 546,1102 550,1104 554,1108 558,1110 562,1112 566,1114 570,1116 574,1118 578,1120 582,1122 586,1126 590,1128 594,1130 598,1132 602,1130 605,1125 608,1110 610,1080 612,1020 614,1000 616,1050 618,1100 620,1060 622,940 624,980 626,1050 628,1120 630,1150 632,1100 634,1040 636,1000 638,1040 640,1080 642,1020 644,960 646,940 648,950 650,960 652,980 654,1010 656,1020 658,960 660,900 662,860 664,855 666,880 668,920 670,960 672,1000 674,1010 676,980 678,950 680,920 682,910 684,905 686,930 688,980 690,1000 692,1020 694,1050 696,1080 698,1100 700,1090 702,1060 704,1030 706,1010 708,980 710,970 712,1000 714,1050 716,1100 718,1140 720,1160 722,1100 724,1060 726,1100 728,1150 730,1170 732,1190 734,1180 736,1140 738,1110 740,1100 742,1110 744,1130 746,1120 748,1100 750,1090 752,1120 754,1160 756,1170 758,1140 760,1110 762,1100 764,1098 766,1100 768,1080 770,1070 772,1060 774,1050 776,1040 778,1030 780,1020 782,1010 784,1000 786,995 788,990 790,985 793,990 796,995 798,1190 802,1192 806,1188 810,1194 814,1190 818,1195 822,1188 826,1196 830,1190 834,1198 838,1192 842,1196 846,1190 850,1198 854,1192 858,1196 862,1190 866,1194 870,1185 874,1188 878,1192 882,1186 886,1180 890,1178 893,1190 896,1200 900,1198 904,1195 908,1200 912,1208 916,1212 920,1204 924,1200 928,1198 932,1206 936,1212 940,1200 944,1190 948,1196 952,1202 956,1198 960,1206 964,1212 968,1218 972,1222 976,1226 980,1224 985,1228 990,1232 995,1228 1000,1236 1005,1232 1010,1240 1015,1234 1020,1242 1025,1236 1030,1244 1035,1238 1040,1246 1045,1240 1050,1250 1055,1240 1060,1246 1065,1240 1070,1248 1075,1242 1080,1238 1085,1244 1090,1240 1095,1248 1100,1242 1105,1250 1110,1246 1115,1252 1120,1248 1125,1256 1130,1252 1135,1260 1140,1256 1145,1262 1150,1258 1155,1266 1160,1270 1165,1274 1170,1270 1175,1278 1180,1276 1185,1280 1190,1274 1195,1280 1200,1276 1205,1282 1210,1276 1215,1282 1220,1274 1225,1280 1230,1276 1235,1282 1240,1276 1245,1284 1250,1278 1255,1272 1260,1278 1265,1270 1270,1278 1275,1282 1280,1278 1285,1286 1290,1280 1295,1288 1300,1282 1305,1292 1310,1298 1315,1286 1320,1282 1325,1290 1330,1284 1335,1292 1340,1286 1345,1292 1350,1286 1355,1292 1360,1286 1365,1294 1370,1288 1375,1292 1380,1286 1385,1270 1390,1284 1395,1292 1400,1286 1405,1292 1410,1290 1415,1296 1420,1300 1425,1296"/>
</g>
</g>

<!-- Interruption lines and purple bars -->
<g stroke="#ff0000" stroke-width="7">
<path d="M1390.6,241.2V848.7M2126.4,241.2V848.7M1390.6,1000.5V1608M2126.4,1000.5V1608"/>
</g>
<g fill="#800080">
<rect x="660.3" y="833.1" width="208.8" height="15.6"/>
<rect x="1875.3" y="833.1" width="214" height="15.6"/>
<rect x="660.3" y="1592.4" width="208.8" height="15.6"/>
<rect x="1875.3" y="1592.4" width="214" height="15.6"/>
</g>

<!-- AXES FRAME -->
<g id="axT">
<rect x="375" y="241.2" width="2325" height="607.5" fill="none" stroke="#000" stroke-width="2.8"/>
<path fill="none" stroke="#000" stroke-width="2.8" d="M362,312.3H375M362,413.55H375M362,514.8H375M362,616.05H375M362,717.3H375M362,818.55H375M824.6,848.7V862M1280.1,848.7V862M1735.6,848.7V862M2191.1,848.7V862M2646.6,848.7V862"/>
<path fill="none" stroke="#000" stroke-width="2.1" d="M368,849H375M368,841.01H375M368,834.23H375M368,828.36H375M368,823.18H375M368,788.07H375M368,770.24H375M368,757.59H375M368,747.78H375M368,739.76H375M368,732.98H375M368,727.11H375M368,721.93H375M368,686.82H375M368,668.99H375M368,656.34H375M368,646.53H375M368,638.51H375M368,631.73H375M368,625.86H375M368,620.68H375M368,585.57H375M368,567.74H375M368,555.09H375M368,545.28H375M368,537.26H375M368,530.48H375M368,524.61H375M368,519.43H375M368,484.32H375M368,466.49H375M368,453.84H375M368,444.03H375M368,436.01H375M368,429.23H375M368,423.36H375M368,418.18H375M368,383.07H375M368,365.24H375M368,352.59H375M368,342.78H375M368,334.76H375M368,327.98H375M368,322.11H375M368,316.93H375M368,281.82H375M368,263.99H375M368,251.34H375M368,241.6H375M482.98,848.7V855.6M596.85,848.7V855.6M710.73,848.7V855.6M938.48,848.7V855.6M1052.35,848.7V855.6M1166.23,848.7V855.6M1393.98,848.7V855.6M1507.85,848.7V855.6M1621.73,848.7V855.6M1849.48,848.7V855.6M1963.35,848.7V855.6M2077.23,848.7V855.6M2304.98,848.7V855.6M2418.85,848.7V855.6M2532.73,848.7V855.6"/>
</g>
<use href="#axT" transform="translate(0,759.3)"/>

<!-- LEGENDS -->
<g>
<rect x="391.5" y="257.5" width="193.5" height="161" rx="7" ry="7" fill="#fff" fill-opacity="0.8" stroke="#cccccc" stroke-opacity="0.8" stroke-width="2.8"/>
<path stroke="#ff0000" stroke-width="4.5" d="M404.5,286H472.5"/>
<path stroke="#0000ff" stroke-width="4.5" d="M404.5,334.8H472.5"/>
<path stroke="#008000" stroke-width="4.5" d="M404.5,384.9H472.5"/>
<g font-size="34" fill="#000">
<text x="497" y="298.4">LE-0</text>
<text x="497" y="347.2">LE-1</text>
<text x="497" y="397.3">LE-2</text>
</g>
<rect x="391.5" y="1016.5" width="222.7" height="210.4" rx="7" ry="7" fill="#fff" fill-opacity="0.8" stroke="#cccccc" stroke-opacity="0.8" stroke-width="2.8"/>
<path stroke="#ff0000" stroke-width="4.5" d="M404.5,1045H472.5"/>
<path stroke="#0000ff" stroke-width="4.5" d="M404.5,1094.6H472.5"/>
<path stroke="#008000" stroke-width="4.5" d="M404.5,1143.9H472.5"/>
<path stroke="#00ffff" stroke-width="4.5" d="M404.5,1193.5H472.5"/>
<g font-size="34" fill="#000">
<text x="497" y="1057.4">HES-0</text>
<text x="497" y="1107">HES-1</text>
<text x="497" y="1156.3">HES-2</text>
<text x="497" y="1205.9">HES-C</text>
</g>
</g>

<!-- TITLES -->
<g font-size="41.7" fill="#ff0000" text-anchor="middle">
<text x="1534" y="232.7">Interruption</text>
<text x="1534" y="992">Interruption</text>
</g>

<!-- Y TICK LABELS -->
<g font-size="40" fill="#000" text-anchor="end">
<text x="347" y="327">10<tspan font-size="28" dy="-15.5">4</tspan></text>
<text x="347" y="428.25">10<tspan font-size="28" dy="-15.5">3</tspan></text>
<text x="347" y="529.5">10<tspan font-size="28" dy="-15.5">2</tspan></text>
<text x="347" y="630.75">10<tspan font-size="28" dy="-15.5">1</tspan></text>
<text x="347" y="732">10<tspan font-size="28" dy="-15.5">0</tspan></text>
<text x="347" y="833.25">10<tspan font-size="28" dy="-15.5">−1</tspan></text>
<text x="347" y="1086.3">10<tspan font-size="28" dy="-15.5">4</tspan></text>
<text x="347" y="1187.55">10<tspan font-size="28" dy="-15.5">3</tspan></text>
<text x="347" y="1288.8">10<tspan font-size="28" dy="-15.5">2</tspan></text>
<text x="347" y="1390.05">10<tspan font-size="28" dy="-15.5">1</tspan></text>
<text x="347" y="1491.3">10<tspan font-size="28" dy="-15.5">0</tspan></text>
<text x="347" y="1592.55">10<tspan font-size="28" dy="-15.5">−1</tspan></text>
</g>

<!-- Y LABELS -->
<g font-size="39" fill="#000" text-anchor="middle">
<text transform="translate(228,545) rotate(-90)">counts/sec</text>
<text transform="translate(228,1304.3) rotate(-90)">counts/sec</text>
<text x="1537.5" y="1814">Day of Year</text>
</g>

<!-- X TICK LABELS -->
<g font-size="40" fill="#000" text-anchor="end">
<text transform="translate(818.3,1666) rotate(-30)">2025:151</text>
<text transform="translate(1273.8,1666) rotate(-30)">2025:152</text>
<text transform="translate(1729.3,1666) rotate(-30)">2025:153</text>
<text transform="translate(2184.8,1666) rotate(-30)">2025:154</text>
<text transform="translate(2640.3,1666) rotate(-30)">2025:155</text>
</g>
</svg>
</body></html>
